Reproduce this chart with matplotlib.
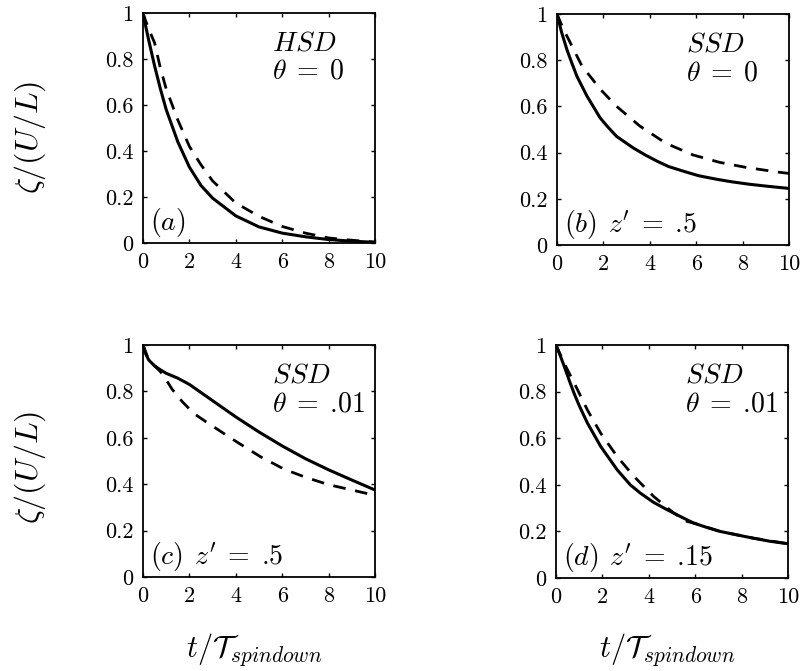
import matplotlib
matplotlib.use("Agg")
import matplotlib.pyplot as plt

plt.rcParams['mathtext.fontset'] = 'cm'
plt.rcParams['font.family'] = ['cmr10', 'DejaVu Serif']
plt.rcParams['axes.formatter.use_mathtext'] = True

# values, x = t / T_spindown
# panel (a) HSD, theta = 0
t_a = [0, 0.1, 0.25, 0.5, 0.75, 1, 1.5, 2, 2.5, 3, 4, 5, 6, 7, 8, 9, 10]
solid_a = [1.0, 0.95, 0.88, 0.77, 0.67, 0.58, 0.44, 0.33, 0.25, 0.195, 0.118, 0.07, 0.043, 0.027, 0.015, 0.008, 0.003]
dash_a = [1.0, 0.97, 0.93, 0.87, 0.76, 0.67, 0.535, 0.42, 0.34, 0.27, 0.174, 0.116, 0.072, 0.043, 0.022, 0.012, 0.004]

# panel (b) SSD, theta = 0, z' = .5
t_b = [0, 0.2, 0.43, 0.65, 0.86, 1.29, 1.86, 2.2, 2.57, 3.29, 3.8, 4.29, 4.8, 5.43, 6.1, 6.86, 7.5, 8.29, 9.1, 10]
solid_b = [1.0, 0.92, 0.845, 0.785, 0.73, 0.645, 0.55, 0.51, 0.47, 0.42, 0.39, 0.364, 0.34, 0.32, 0.30, 0.285, 0.274, 0.263, 0.254, 0.245]
t_b2 = [0, 0.25, 0.5, 1.07, 1.86, 2.57, 3.57, 4.7, 5.86, 7.0, 8.14, 9.57, 10]
dash_b = [1.0, 0.94, 0.89, 0.776, 0.675, 0.60, 0.515, 0.44, 0.39, 0.358, 0.336, 0.315, 0.31]

# panel (c) SSD, theta = .01, z' = .5
t_c = [0, 0.1, 0.25, 0.5, 0.75, 1.0, 1.5, 2.0, 2.5, 3.0, 3.5, 4.0, 5.0, 6.0, 7.0, 8.0, 9.0, 10]
solid_c = [1.0, 0.965, 0.935, 0.91, 0.893, 0.878, 0.857, 0.83, 0.795, 0.76, 0.725, 0.69, 0.625, 0.565, 0.51, 0.462, 0.418, 0.375]
t_c2 = [0, 0.25, 0.5, 0.75, 1.0, 1.25, 1.7, 2.19, 2.7, 3.05, 3.92, 5.07, 6.08, 7.0, 8.0, 9.0, 10]
dash_c = [1.0, 0.935, 0.91, 0.885, 0.85, 0.81, 0.755, 0.705, 0.67, 0.647, 0.59, 0.518, 0.465, 0.43, 0.398, 0.375, 0.352]

# panel (d) SSD, theta = .01, z' = .15
t_d = [0, 0.2, 0.36, 0.6, 0.79, 1.0, 1.36, 1.93, 2.64, 3.2, 3.64, 4.2, 4.79, 5.4, 5.93, 6.5, 7.07, 7.8, 8.5, 9.2, 10]
solid_d = [1.0, 0.95, 0.907, 0.84, 0.79, 0.74, 0.664, 0.564, 0.464, 0.40, 0.364, 0.325, 0.293, 0.262, 0.236, 0.217, 0.20, 0.185, 0.171, 0.158, 0.147]
t_d2 = [0, 0.36, 0.79, 1.36, 1.93, 2.64, 3.36, 4.21, 5.07, 5.64, 5.93, 7.07, 8.5, 10]
dash_d = [1.0, 0.92, 0.836, 0.72, 0.621, 0.521, 0.436, 0.35, 0.279, 0.243, 0.236, 0.20, 0.171, 0.147]

xticks = [0, 2, 4, 6, 8, 10]
yticks = [0, 0.2, 0.4, 0.6, 0.8, 1]
ytick_labels = ['0', '0.2', '0.4', '0.6', '0.8', '1']

panels = [
    (t_a, solid_a, t_a, dash_a, r'$HSD$', r'$\theta\;=\;$0', r'$(a)$'),
    (t_b, solid_b, t_b2, dash_b, r'$SSD$', r'$\theta\;=\;$0', r"$(b)\;\,z'\;=\;$.5"),
    (t_c, solid_c, t_c2, dash_c, r'$SSD$', r'$\theta\;=\;$.01', r"$(c)\;\,z'\;=\;$.5"),
    (t_d, solid_d, t_d2, dash_d, r'$SSD$', r'$\theta\;=\;$.01', r"$(d)\;\,z'\;=\;$.15"),
]

fig = plt.figure(figsize=(8.01, 6.71), dpi=100)
rects = [
    [143/801, 1 - 243/671, 232/801, 230/671],
    [557/801, 1 - 245/671, 232/801, 231/671],
    [143/801, 1 - 577/671, 232/801, 232/671],
    [556/801, 1 - 578/671, 232/801, 233/671],
]

for rect, (ts, s, td, d, top1, top2, tag) in zip(rects, panels):
    ax = fig.add_axes(rect)
    ax.plot(ts, s, color='black', lw=2.2)
    ax.plot(td, d, color='black', lw=2.0, dashes=(4.5, 3.5))
    ax.set_xlim(0, 10)
    ax.set_ylim(0, 1)
    ax.set_xticks(xticks)
    ax.set_xticklabels([str(v) for v in xticks])
    ax.set_yticks(yticks)
    ax.set_yticklabels(ytick_labels)
    ax.tick_params(direction='in', length=3, width=1, top=True, right=True,
                   labelsize=16, pad=7)
    for sp in ax.spines.values():
        sp.set_linewidth(1.3)
    ax.text(0.555, 0.87, top1, transform=ax.transAxes, fontsize=20,
            ha='left', va='center')
    ax.text(0.555, 0.745, top2, transform=ax.transAxes, fontsize=20,
            ha='left', va='center')
    ax.text(0.03, 0.09, tag, transform=ax.transAxes, fontsize=20,
            ha='left', va='center')

# y labels on left column
fig.text(30/801, 1 - 137/671, r'$\zeta/(U/L)$', rotation=90, fontsize=23,
         ha='center', va='center')
fig.text(30/801, 1 - 467/671, r'$\zeta/(U/L)$', rotation=90, fontsize=23,
         ha='center', va='center')
# x labels under bottom row
fig.text(254/801, 1 - 650/671, r'$t/\mathcal{T}_{spindown}$', fontsize=22,
         ha='center', va='center')
fig.text(667/801, 1 - 650/671, r'$t/\mathcal{T}_{spindown}$', fontsize=22,
         ha='center', va='center')

fig.savefig('out.png', dpi=100)
